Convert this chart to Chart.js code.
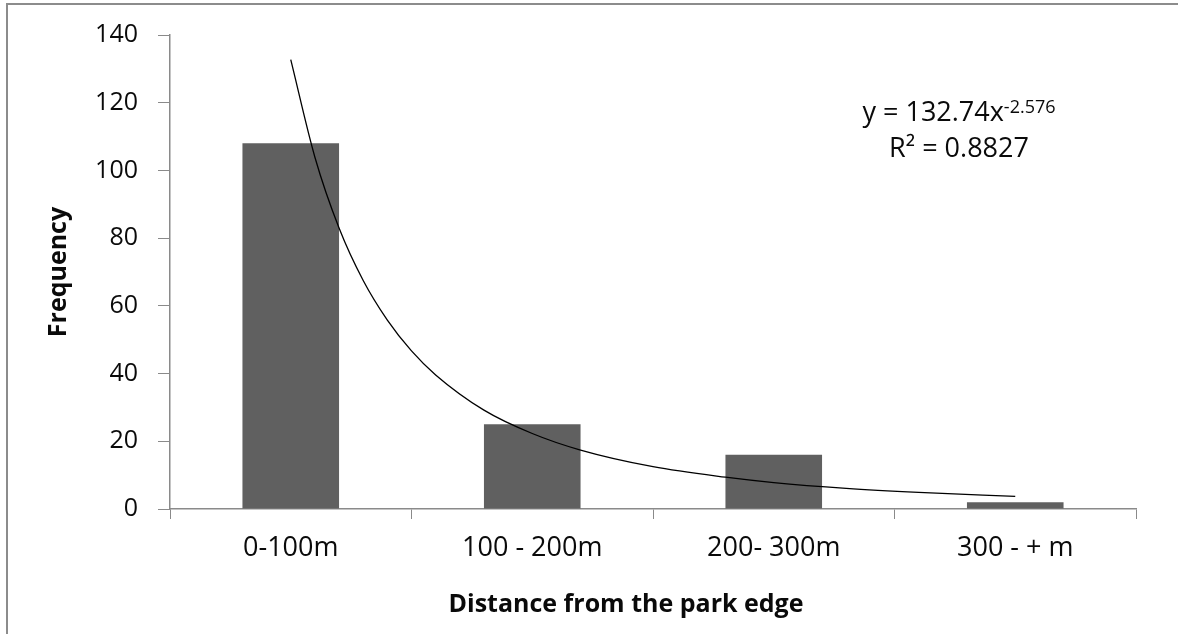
<!DOCTYPE html>
<html>
<head>
<meta charset="utf-8">
<script src="https://cdn.jsdelivr.net/npm/chart.js@4.4.1/dist/chart.umd.min.js"></script>
<style>
  html, body { margin: 0; padding: 0; background: #fff; overflow: hidden; }
  #wrap { position: relative; width: 1178px; height: 634px; }
  #frame { position: absolute; left: 6px; top: 3px; width: 1200px; height: 700px;
           border-top: 2px solid #8c8c8c; border-left: 2px solid #8c8c8c; pointer-events: none; }
  canvas { position: absolute; left: 0; top: 0; }
</style>
</head>
<body>
<div id="wrap">
  <canvas id="c" width="1178" height="634"></canvas>
  <div id="frame"></div>
</div>
<script>
// ---- data ----
const categories = ['0-100m', '100 - 200m', '200- 300m', '300 - + m'];
const frequency = [108, 25, 16, 2];
// trend curve (x in category units, 1 = first category centre)
const trendX = [1.0, 1.1, 1.2, 1.3, 1.4, 1.5, 1.6, 1.8, 2.0, 2.2, 2.5, 2.8, 3.0, 3.3, 3.6, 4.0];
const trendY = [132.7, 103.9, 83.0, 67.5, 55.8, 46.7, 39.6, 29.2, 22.3, 17.4, 12.5, 9.4, 7.8, 6.1, 4.9, 3.7];
const yMin = 0, yMax = 140, yStep = 20;
const yTitle = 'Frequency';
const xTitle = 'Distance from the park edge';
const eqMain = 'y = 132.74x';
const eqSup = '-2.576';
const eqR2 = 'R\u00B2 = 0.8827';

const trendPoints = trendX.map((x, i) => ({ x: x, y: trendY[i] }));

const FONT = '"Open Sans", "Noto Sans", sans-serif';
const AXIS_COLOR = '#8a8a8a';
const TEXT = '#0a0a0a';

const annotations = {
  id: 'annotations',
  afterDraw(chart) {
    const { ctx, chartArea } = chart;
    const L = chartArea.left;
    ctx.save();
    ctx.fillStyle = TEXT;
    // x axis title
    ctx.font = 'bold 25px ' + FONT;
    ctx.textAlign = 'center';
    ctx.textBaseline = 'alphabetic';
    ctx.fillText(xTitle, L + (626 - 170), chartArea.bottom + (612 - 509));
    // equation
    const cx = L + (959 - 170);
    ctx.textAlign = 'left';
    ctx.font = '27px ' + FONT;
    const w1 = ctx.measureText(eqMain).width;
    ctx.font = '18px ' + FONT;
    const w2 = ctx.measureText(eqSup).width;
    const sx = cx - (w1 + w2) / 2;
    const top = chartArea.top;
    ctx.font = '27px ' + FONT;
    ctx.fillText(eqMain, sx, top + (119 - 33));
    ctx.font = '18px ' + FONT;
    ctx.fillText(eqSup, sx + w1, top + (111 - 33));
    ctx.font = '27px ' + FONT;
    ctx.textAlign = 'center';
    ctx.fillText(eqR2, cx, top + (155 - 33));
    ctx.restore();
  }
};

new Chart(document.getElementById('c'), {
  type: 'bar',
  data: {
    labels: categories,
    datasets: [
      {
        type: 'line',
        data: trendPoints,
        xAxisID: 'x2',
        yAxisID: 'y',
        borderColor: '#000',
        borderWidth: 1.3,
        pointRadius: 0,
        fill: false,
        cubicInterpolationMode: 'monotone',
        order: 0
      },
      {
        type: 'bar',
        data: frequency,
        xAxisID: 'x',
        yAxisID: 'y',
        backgroundColor: '#606060',
        borderWidth: 0,
        grouped: false,
        categoryPercentage: 1.0,
        barPercentage: 0.4,
        order: 1
      }
    ]
  },
  options: {
    responsive: false,
    devicePixelRatio: 1,
    animation: false,
    layout: { padding: { left: 0, top: 33, right: 42, bottom: 0 } },
    plugins: { legend: { display: false }, tooltip: { enabled: false } },
    scales: {
      x: {
        type: 'category',
        offset: true,
        grid: { display: true, drawOnChartArea: false, drawTicks: true, tickLength: 10, color: AXIS_COLOR, offset: true },
        border: { display: true, color: AXIS_COLOR, width: 1.5 },
        ticks: { color: TEXT, font: { family: FONT, size: 27 }, padding: 13, maxRotation: 0, autoSkip: false },
        afterFit(s) { s.height = 125; }
      },
      x2: {
        type: 'linear',
        display: false,
        min: 0.5,
        max: 4.5,
        offset: false
      },
      y: {
        min: yMin,
        max: yMax,
        grid: { display: true, drawOnChartArea: false, drawTicks: true, tickLength: 12, color: AXIS_COLOR },
        border: { display: true, color: AXIS_COLOR, width: 1.5 },
        ticks: { stepSize: yStep, color: TEXT, font: { family: FONT, size: 25 }, padding: 20 },
        title: { display: true, text: yTitle, color: TEXT, font: { family: FONT, size: 25, weight: 'bold' }, padding: { top: 44, bottom: 0 } },
        afterFit(s) { s.width = 170; }
      }
    }
  },
  plugins: [annotations]
});
</script>
</body>
</html>
